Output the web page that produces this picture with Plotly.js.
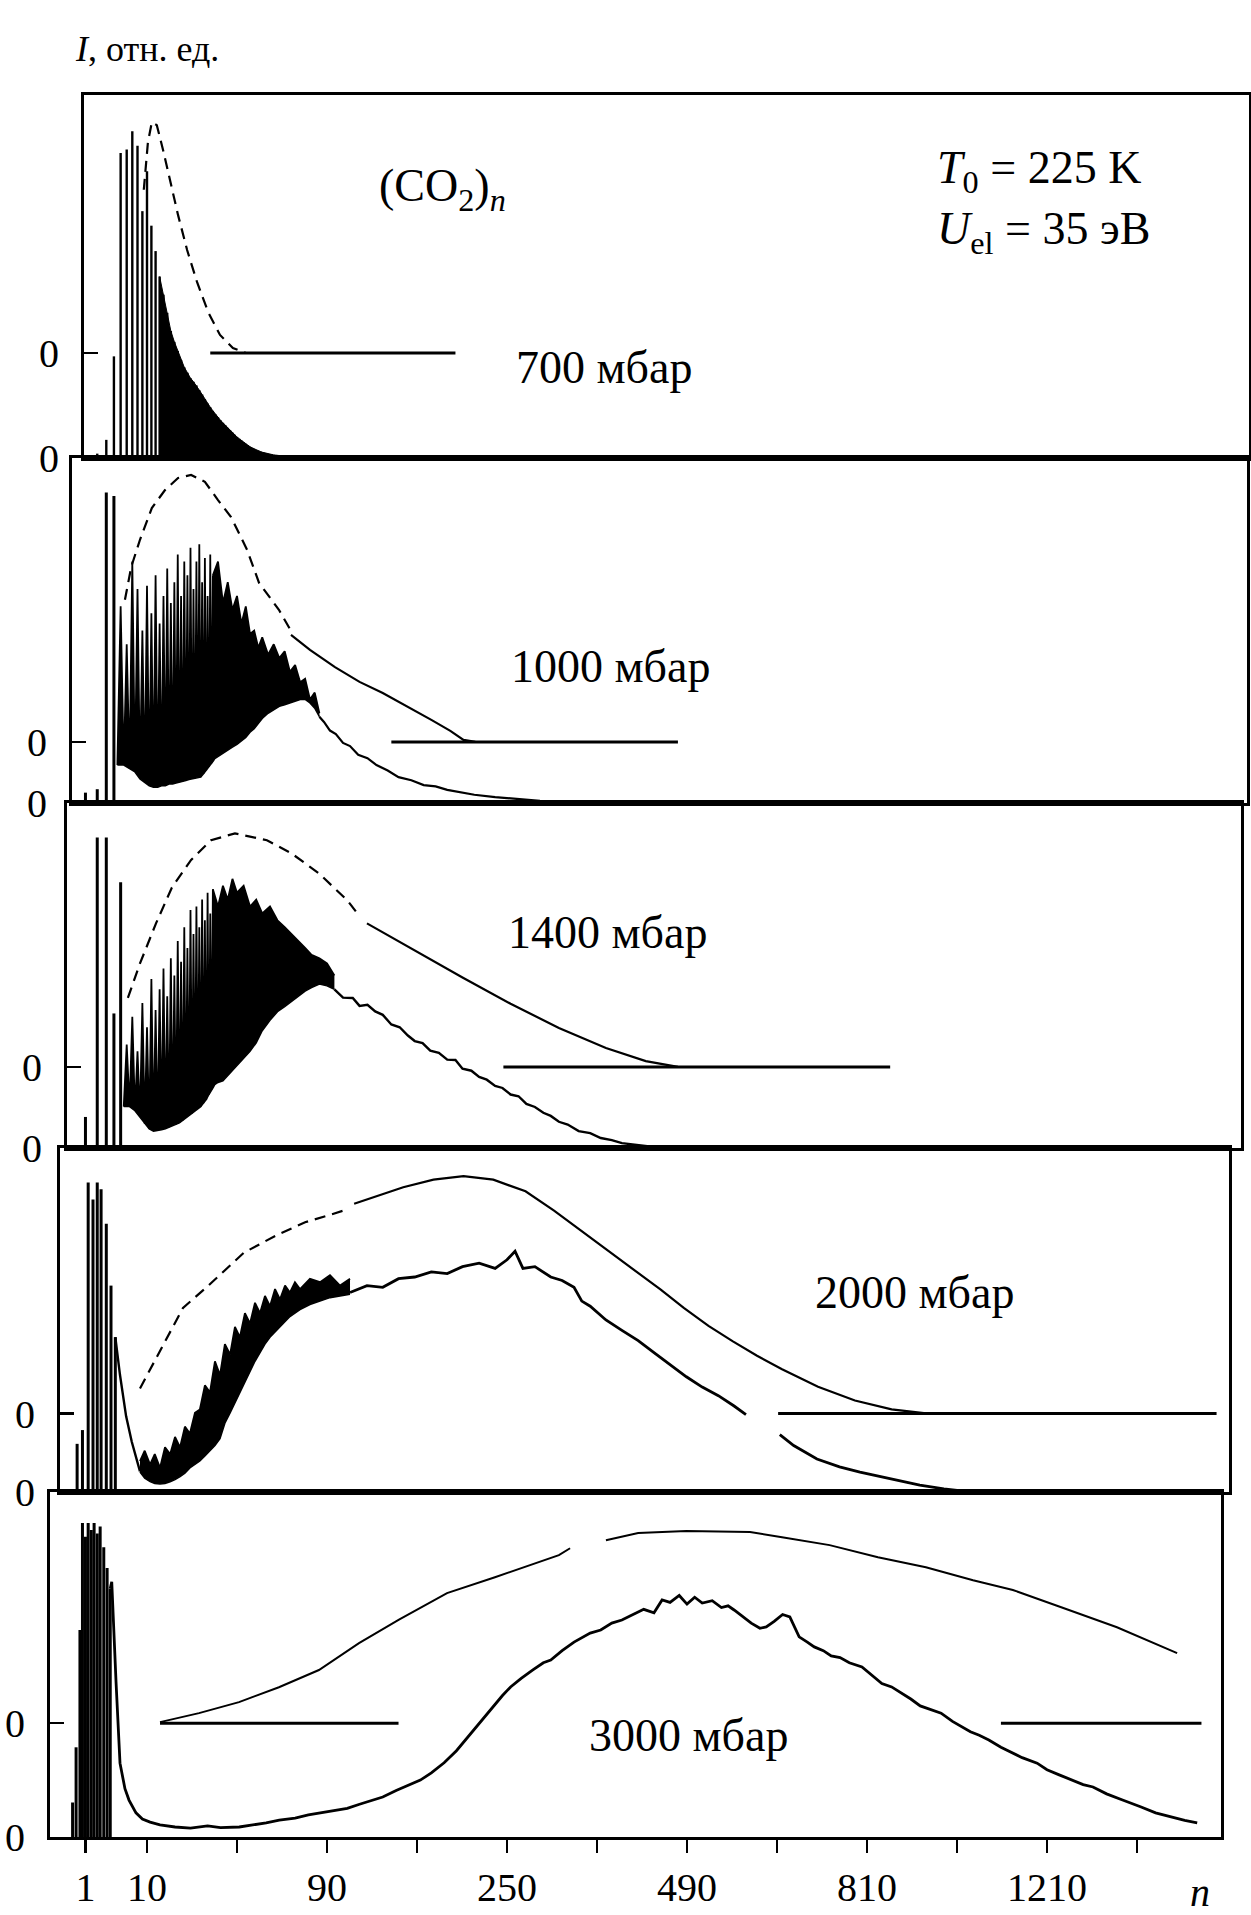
<!DOCTYPE html>
<html><head><meta charset="utf-8">
<script src="https://cdn.plot.ly/plotly-3.0.1.min.js"></script>
<style>html,body{margin:0;padding:0;background:#fff}#chart{width:1251px;height:1915px}</style>
</head><body><div id="chart"></div>
<script>
// ---------- DATA (n = cluster size, I = relative intensity, % of panel height) ----------
const tickN = [1, 10, 90, 250, 490, 810, 1210];
const tickText = ['1', '10', '90', '250', '490', '810', '1210'];
const minorTickN = [40, 160, 360, 640, 1000, 1440];
const panelLabels = ['700 мбар', '1000 мбар', '1400 мбар', '2000 мбар', '3000 мбар'];

// Panel 1: 700 mbar
const p1StickN = [1,2,3,4,5,6,7,8,9,10,11,12,13,14,15,16,17,18,19,20,21,22,23,24,25,26,27,28,29,30,31,32,33,34,35,36,37,38,39,40,41,42,43,44,45,46,47,48,49,50,51,52,53,54,55,56,57,58,59,60,61,62,63,64,65,66,67,68,69,70];
const p1StickI = [0.5,1.2,5,28,84,85,90,86,68,79,64,57,50,45,40,35,32,29.5,27,25,23.5,22,21,20,18.7,17.5,16.2,15,14,13,12,11.2,10.4,9.7,9,8.3,7.6,7,6.4,5.8,5.3,4.8,4.3,3.9,3.5,3.1,2.8,2.5,2.2,2,1.8,1.6,1.45,1.3,1.15,1.05,0.95,0.85,0.8,0.7,0.65,0.6,0.55,0.5,0.45,0.4,0.4,0.35,0.3,0.3];
const p1FitDashN = [9.3, 10.2, 11.1, 12.3, 13.9, 15.8, 18.1, 20.9, 24.2, 28.2, 32.8, 38.2, 44.1];
const p1FitDashI = [45, 58, 63.6, 62.8, 55.9, 47.7, 38, 28.4, 19.6, 11.3, 5, 1.4, 0];
const p1ZeroN = [29, 196];

// Panel 2: 1000 mbar
const p2StickN = [1, 2, 3, 4];
const p2StickI = [3, 4, 90, 89];
const p2ZzN = [5,6,7,8,9,10,11,12,13,14,15,16,17,18,19,20,21,22,23,24,25,26,27,28,29,30];
const p2ZzPeak = [57,46,70,62,50,63,55,66,52,60,68,58,64,72,60,70,66,74,62,70,75,64,71,60,72,66];
const p2ZzTrough = [11,10,9,7,6,5,4.6,4.6,5,5,5.5,5.5,5.8,6,6.2,6.5,6.8,7,7.2,7.4,7.5,8.5,9.5,10.5,11.5,12.5];
const p2BandN = [30,32,34,36,38,40,42,44,46,48,50,52,55,58,61,64,67,70,73,76,79,82,85];
const p2BandHi = [66,70,58,64,56,60,52,57,49,50,45,48,43,46,42,44,38,40,35,36,30,32,26];
const p2BandLo = [12.5,13.5,14.5,15.5,16.2,17,18,19,20.5,21.5,23,24.5,26,27,28,28.5,29,29.5,30,30,29,27.5,25];
const p2TailN = [85,88,92,96,101,106,112,119,126,135,144,155,166,177,188,200,215,237,260,288,320,364];
const p2TailI = [25,23.5,21,20,17.4,16.5,14,13,11,9.4,7.5,6.6,5.2,4.8,3.8,3.2,2.4,1.7,1.1,0.6,0.3,0];
const p2FitDashN = [5.7,6.8,8.5,11.1,14.4,18.1,22.2,27,32,37.4,44.6,50.4,60.8,67.6];
const p2FitDashI = [41.2,50.7,58.6,67.8,73,76.5,77.4,75.4,70.1,65.2,55.7,46.1,38.3,32.2];
const p2FitSolidN = [67.6,79,95.4,113,131,154,173,191,204,216];
const p2FitSolidI = [31,26.7,21.7,17.4,14.2,9.9,6.4,3.2,0.6,0];
const p2ZeroN = [138, 476];

// Panel 3: 1400 mbar
const p3StickN = [1, 2, 3, 4, 5];
const p3StickI = [9, 90, 90, 39, 77];
const p3ZzN = [6,7,8,9,10,11,12,13,14,15,16,17,18,19,20,21,22,23,24,25,26,27,28,29,30];
const p3ZzPeak = [30,38,28,42,35,49,40,46,52,44,55,50,60,54,64,58,69,62,70,64,72,66,74,68,75];
const p3ZzTrough = [12,10.8,9,7,5.5,4.9,5,5.3,5.6,6,6.4,6.8,7.3,8,8.7,9.4,10,10.8,11.4,12,13,14,15.5,17,18];
const p3BandN = [30,32,34,36,38,40,43,46,49,52,56,60,64,68,72,76,80,85,90,95];
const p3BandHi = [75,70,76,72,78,74,76,70,72,68,70,66,64,62,60,58,56,55,53.5,50];
const p3BandLo = [18,19,19.5,21,22.5,24,26,28,30.5,34,37,39.5,41,42.5,44,45.5,46.5,47.5,47,46];
const p3TailN = [95,101,108,113,119,125,131,138,145,152,158,165,172,180,188,196,203,212,220,228,237,245,254,263,272,282,292,301,311,322,336,351,365,380,394,410,430,452];
const p3TailI = [46,43.6,43.5,41.2,41.5,39.6,38.6,35.8,35,32.6,31,30.4,28.2,27.6,25.6,25.5,23,22.4,20.6,19.8,18,17.4,15.5,15,12.8,11.9,10.2,9.3,7.6,6.8,4.9,4.3,2.9,2.3,1.4,1,0.4,0];
const p3FitDashN = [6.2,8.5,12.1,16.3,22.2,29.3,39.1,54.4,67.6,84.7,104,112.6];
const p3FitDashI = [20,30,41.6,52,60,65.7,67.7,65.7,62,56.1,48.3,43.9];
const p3FitSolidN = [118.6,158,203,254,311,372,428,476];
const p3FitSolidI = [41.6,33.7,25.9,18.3,11.3,5.5,1.7,0];
const p3ZeroN = [246, 857];

// Panel 4: 2000 mbar
const p4StickN = [0.5,0.8,1.2,1.6,2,2.4,3,3.6,4.2];
const p4StickI = [14,18,90,85,90,88,78,60,45];
const p4DropN = [4.2,4.9,5.9,6.9,8.5];
const p4DropI = [45,34,22,14.6,6];
const p4BandN = [8.5,9.5,10.7,11.8,13.1,14.4,15.8,17.2,18.7,20.2,21.8,23.5,25.2,27,28.9,30.8,32.8,34.8,37,39.1,41.3,43.6,46,48.4,50.9,53.4,56,58.7,61.4,64.2,67,69.9,72.9,79,85.4,92,98.9,106];
const p4BandLo = [5.8,4,3,2.5,2.3,2.5,3,3.6,4.5,5.5,7,8,9,10.5,12,13.5,15.5,20,23,26,29,32,35,38,40.5,43,45,46.5,48,49.5,51,52,53,54.5,55.5,56.5,57,57.5];
const p4BandHi = [9,12,8,11,7,13,11,16,13,19,17,23,24,31,29,38,34,43,40,48,45,52,49,55,52,57,54,59,56,60,58,61,59,62,61,63,60,62];
const p4TailN = [106,118.6,131,144,158,173,188,203,220,237,250,259,268,282,301,315,330,340,351,372,394,417,440,464,489,514,540,566,586,600,645,670,713,756,796,857,919,971,1020,1075];
const p4TailI = [58,60,59.5,62,62.5,64,63.5,65.5,66.5,65,67.5,70,65,65.5,62.5,61.5,59.5,55.5,54,50,47,44,40.5,37,33.5,30.5,28,25,22.5,null,16.7,13.5,9.6,7.3,5.8,3.8,2,0.9,0.2,0];
const p4FitDashN = [8.5,19.6,28,43.2,60,76,90,104.5];
const p4FitDashI = [7.3,30.7,37,46.8,52,55.6,57.5,59.4];
const p4FitSolidN = [109,148,175,204,235,271,305,346,380,413,450,485,524,564,605,649,715,786,860,937];
const p4FitSolidI = [61,65.8,68,69,68,64.6,59,52,46.5,41.5,36,30.7,25.5,21,16.8,12.9,7.8,3.8,1.2,0];
const p4ZeroN = [642, 1660];

// Panel 5: 3000 mbar
const p5StickN = [0.3,0.45,0.65,0.8,1.0,1.2,1.45,1.7,2.0,2.3,2.7,3.1,3.5];
const p5StickI = [10,26,60,91,87,91,89,91,88,90,84,78,72];
const p5LineN = [3.5,3.7,4.3,4.9,5.7,6.4,7.7,9,10.7,13.1,17.2,22,28,33,41,48,54,61,70,78,88,95,104,113,122,131,142,152,163,173,185,197,210,220,232,245,254,266,280,292,301,315,330,351,365,380,394,410,425,440,452,464,478,490,502,514,530,545,556,566,580,595,610,621,635,650,663,680,695,708,725,740,757,775,800,820,840,860,881,900,920,942,965,990,1010,1030,1050,1072,1100,1125,1150,1186,1210,1240,1270,1300,1325,1360,1400,1430,1451,1490,1530,1570,1605];
const p5LineI = [72,74,45,21.4,14,10.7,7,5.2,4.3,3.5,2.9,2.6,3.2,2.7,2.9,3.5,4.1,4.9,5.5,6.4,7.2,7.8,8.3,9.5,10.6,11.6,13.5,15,16.5,18.6,21.5,25,29.5,33,37,41,43.5,46,48.5,50.5,51.3,54,56.5,59.1,60,62,62.9,64.5,66,65,68.7,68,70,67.5,69.5,67.8,68.5,66.5,67,65.8,64,62,60.5,60.9,62.5,64.5,63.8,58,56.5,55.1,54,52.5,52,50.5,49.3,47,44.5,43.5,41.7,40,38,37,35.9,33.5,32,30.5,29.5,28.1,26,24.5,23,21.4,19.5,18,16.5,15.2,14.5,12.5,10.8,9.6,8.7,7,5.8,4.8,4.1];
const p5FitAN = [13.1,24.9,40.9,60.8,84.7,112.6,144.4,187.8,236.8,311,325];
const p5FitAI = [0.3,2.9,6.1,10.4,15.4,23.2,30,37.7,42.3,48.7,50.7];
const p5FitBN = [372,417,489,593,649,737,832,932,1036,1128,1245,1387,1549];
const p5FitBI = [53,55.1,55.7,55.4,53.9,51.6,48.1,45.2,41.4,38.6,33.6,27.8,20.3];
const p5ZeroAN = [13.1, 144];
const p5ZeroBN = [1100, 1617];

// ---------- LAYOUT GEOMETRY (pixels of the 1251x1915 page) ----------
const W = 1251, H = 1915;
const PX0 = 57, PXK = 90;           // axis pixel = PX0 + PXK*sqrt(n/10)
const panels = [
  {L: 84, R: 1249, top: 95,   bot: 458,  off: 28.9},
  {L: 72, R: 1247, top: 458,  bot: 803,  off: 17.7},
  {L: 67, R: 1241, top: 803,  bot: 1148, off: 23.5},
  {L: 60, R: 1229, top: 1148, bot: 1492, off: 22.8},
  {L: 50, R: 1221, top: 1492, bot: 1837, off: 33}
];
const FONT = 'Liberation Serif, Times New Roman, serif';
const BLACK = '#000';

function kx(n) { return Math.sqrt(n / 10); }
function ax(i) { return {xaxis: i === 0 ? 'x' : 'x' + (i + 1), yaxis: i === 0 ? 'y' : 'y' + (i + 1)}; }

const traces = [];
function addLine(i, N, I, opts) {
  const o = opts || {};
  const off = o.offset || 0;
  traces.push(Object.assign({
    type: 'scatter', mode: 'lines',
    x: N.map(kx), y: I.map(v => v === null ? null : v + off),
    line: {color: BLACK, width: o.width || 2, dash: o.dash || 'solid'},
    fill: o.fill || 'none', fillcolor: BLACK, connectgaps: false,
    hoverinfo: 'skip', showlegend: false
  }, ax(i)));
}
function addSticks(i, N, I, width) {
  const x = [], y = [];
  N.forEach((n, j) => { x.push(kx(n), kx(n), null); y.push(0, I[j], null); });
  traces.push(Object.assign({type: 'scatter', mode: 'lines', x, y,
    line: {color: BLACK, width: width}, hoverinfo: 'skip', showlegend: false}, ax(i)));
}
function addZigzag(i, N, peak, trough) {
  const lx = [kx(N[0] - 0.5)], ly = [trough[0]];
  const zx = [kx(N[0] - 0.5)], zy = [trough[0]];
  N.forEach((n, j) => {
    lx.push(kx(n + 0.5)); ly.push(trough[j]);
    zx.push(kx(n), kx(n + 0.5)); zy.push(peak[j], trough[j]);
  });
  traces.push(Object.assign({type: 'scatter', mode: 'lines', x: lx, y: ly,
    line: {color: BLACK, width: 1.5}, hoverinfo: 'skip', showlegend: false}, ax(i)));
  traces.push(Object.assign({type: 'scatter', mode: 'lines', x: zx, y: zy,
    line: {color: BLACK, width: 1.8}, fill: 'tonexty', fillcolor: BLACK,
    hoverinfo: 'skip', showlegend: false}, ax(i)));
}
function addBand(i, N, lo, hi) {
  addLine(i, N, lo, {width: 1.5});
  addLine(i, N, hi, {width: 1.8, fill: 'tonexty'});
}
const DASH = '11px,7px';

// Panel 1
addSticks(0, p1StickN, p1StickI, 2.4);
(function () {
  const N = [], I = [];
  p1StickN.forEach((n, j) => { if (n >= 13) { N.push(n); I.push(p1StickI[j]); } });
  addLine(0, N, I, {width: 1, fill: 'tozeroy'});
})();
addLine(0, p1FitDashN, p1FitDashI, {offset: panels[0].off, dash: DASH, width: 2.2});
addLine(0, p1ZeroN, [0, 0], {offset: panels[0].off, width: 3});

// Panel 2
addSticks(1, p2StickN, p2StickI, 3);
addZigzag(1, p2ZzN, p2ZzPeak, p2ZzTrough);
addBand(1, p2BandN, p2BandLo, p2BandHi);
addLine(1, p2TailN, p2TailI, {width: 2.2});
addLine(1, p2FitDashN, p2FitDashI, {offset: panels[1].off, dash: DASH, width: 2.2});
addLine(1, p2FitSolidN, p2FitSolidI, {offset: panels[1].off, width: 2.2});
addLine(1, p2ZeroN, [0, 0], {offset: panels[1].off, width: 3});

// Panel 3
addSticks(2, p3StickN, p3StickI, 3);
addZigzag(2, p3ZzN, p3ZzPeak, p3ZzTrough);
addBand(2, p3BandN, p3BandLo, p3BandHi);
addLine(2, p3TailN, p3TailI, {width: 2.4});
addLine(2, p3FitDashN, p3FitDashI, {offset: panels[2].off, dash: DASH, width: 2.2});
addLine(2, p3FitSolidN, p3FitSolidI, {offset: panels[2].off, width: 2.2});
addLine(2, p3ZeroN, [0, 0], {offset: panels[2].off, width: 3});

// Panel 4
addSticks(3, p4StickN, p4StickI, 3);
addLine(3, p4DropN, p4DropI, {width: 2.4});
addBand(3, p4BandN, p4BandLo, p4BandHi);
addLine(3, p4TailN, p4TailI, {width: 2.8});
addLine(3, p4FitDashN, p4FitDashI, {offset: panels[3].off, dash: DASH, width: 2.2});
addLine(3, p4FitSolidN, p4FitSolidI, {offset: panels[3].off, width: 2.2});
addLine(3, p4ZeroN, [0, 0], {offset: panels[3].off, width: 3});

// Panel 5
addSticks(4, p5StickN, p5StickI, 3);
addLine(4, p5LineN, p5LineI, {width: 2.8});
addLine(4, p5FitAN, p5FitAI, {offset: panels[4].off, width: 2});
addLine(4, p5FitBN, p5FitBI, {offset: panels[4].off, width: 2});
addLine(4, p5ZeroAN, [0, 0], {offset: panels[4].off, width: 3});
addLine(4, p5ZeroBN, [0, 0], {offset: panels[4].off, width: 3});

// ---------- AXES ----------
const layout = {
  width: W, height: H,
  margin: {l: 0, r: 0, t: 0, b: 0, pad: 0},
  paper_bgcolor: '#fff', plot_bgcolor: '#fff',
  showlegend: false,
  font: {family: FONT, color: BLACK},
  annotations: []
};
panels.forEach((p, i) => {
  const xs = i === 0 ? 'xaxis' : 'xaxis' + (i + 1);
  const ys = i === 0 ? 'yaxis' : 'yaxis' + (i + 1);
  const isBottom = i === panels.length - 1;
  const xa = {
    domain: [p.L / W, p.R / W],
    range: [(p.L - PX0) / PXK, (p.R - PX0) / PXK],
    anchor: i === 0 ? 'y' : 'y' + (i + 1),
    showline: true, mirror: true, linecolor: BLACK, linewidth: 3,
    showgrid: false, zeroline: false, fixedrange: true,
    ticks: '', showticklabels: false
  };
  if (isBottom) {
    Object.assign(xa, {
      ticks: 'outside', ticklen: 13, tickwidth: 2.5, tickcolor: BLACK,
      showticklabels: true,
      tickmode: 'array', tickvals: tickN.map(kx), ticktext: tickText,
      tickfont: {family: FONT, size: 40, color: BLACK},
      minor: {tickmode: 'array', tickvals: minorTickN.map(kx), ticks: 'outside',
              ticklen: 13, tickwidth: 2.5, tickcolor: BLACK, showgrid: false}
    });
  }
  layout[xs] = xa;
  layout[ys] = {
    domain: [1 - p.bot / H, 1 - p.top / H],
    range: [0, 100],
    anchor: i === 0 ? 'x' : 'x' + (i + 1),
    showline: true, mirror: true, linecolor: BLACK, linewidth: 3,
    showgrid: false, zeroline: false, fixedrange: true,
    tickmode: 'array', tickvals: [0, p.off], ticktext: ['0', '0'],
    ticks: 'inside', ticklen: 14, tickwidth: 2.5, tickcolor: BLACK,
    tickfont: {family: FONT, size: 40, color: BLACK},
    ticklabelstandoff: 14
  };
});

function ann(text, px, py, size, xanchor) {
  layout.annotations.push({
    text: text, xref: 'paper', yref: 'paper', x: px / W, y: 1 - py / H,
    xanchor: xanchor || 'center', yanchor: 'middle', showarrow: false,
    font: {family: FONT, size: size, color: BLACK}
  });
}
ann('<i>I</i>, отн. ед.', 73, 49, 36, 'left');
ann('(CO<sub>2</sub>)<sub><i>n</i></sub>', 442, 189, 46);
ann('<i>T</i><sub>0</sub> = 225 K', 935, 171, 46, 'left');
ann('<i>U</i><sub>el</sub> = 35 эВ', 935, 232, 46, 'left');
const labelPos = [[604, 367], [610, 666], [607, 932], [914, 1292], [688, 1735]];
panelLabels.forEach((t, i) => ann(t, labelPos[i][0], labelPos[i][1], 46));
ann('<i>n</i>', 1200, 1892, 40);

Plotly.newPlot('chart', traces, layout, {staticPlot: true, displayModeBar: false});
</script>
</body></html>
